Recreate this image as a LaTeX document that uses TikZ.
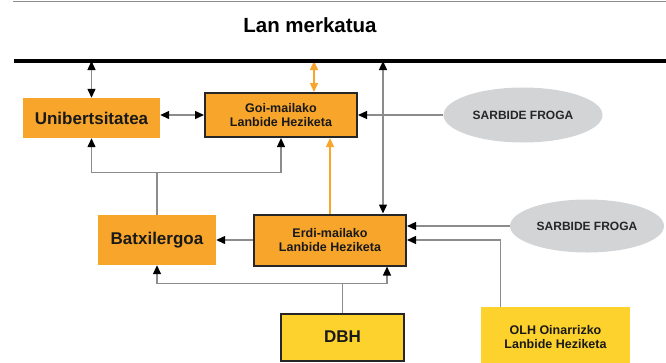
\documentclass[tikz,border=0pt]{standalone}
\usepackage{fontspec}
\setmainfont{Liberation Sans}
\usetikzlibrary{arrows.meta, shapes.geometric, positioning}

\definecolor{lborange}{HTML}{F7A52B}
\definecolor{lbyellow}{HTML}{FDD22C}
\definecolor{lbgray}{HTML}{D3D4D6}
\definecolor{lbline}{HTML}{8C8C8C}

\tikzset{
  box/.style={inner sep=2pt, align=center, text=black!90},
  obox/.style={box, fill=lborange},
  oboxb/.style={box, fill=lborange, draw=black!85, line width=2pt},
  yboxb/.style={box, fill=lbyellow, draw=black!85, line width=2pt},
  ybox/.style={box, fill=lbyellow},
  frog/.style={ellipse, fill=lbgray, text=black!85, inner sep=0pt,
    font=\bfseries\fontsize{12}{14}\selectfont},
  big/.style={font=\bfseries\fontsize{17}{20}\selectfont},
  small/.style={font=\bfseries\fontsize{12.5}{13.5}\selectfont},
  lin/.style={draw=lbline, line width=1.3pt},
  arr/.style={lin, -{Triangle[length=9pt,width=8pt,color=black]}},
  dbl/.style={lin, {Triangle[length=9pt,width=8pt,color=black]}-{Triangle[length=9pt,width=8pt,color=black]}},
  oarr/.style={draw=lborange, line width=1.3pt, -{Triangle[length=9pt,width=8pt]}},
  odbl/.style={draw=lborange, line width=1.3pt, {Triangle[length=9pt,width=8pt]}-{Triangle[length=9pt,width=8pt]}}
}

\begin{document}
\begin{tikzpicture}[x=1pt, y=-1pt]
\useasboundingbox (0,0) rectangle (666,362);

% top rules
\coordinate (tl) at (13,1);
\coordinate (tr) at (666,1);
\draw[lbline, line width=1pt] (tl) -- (tr);
\node[font=\bfseries\fontsize{20.5}{24}\selectfont] (lan) at (310,25) {Lan merkatua};
\coordinate (ml) at (14,61);
\coordinate (mr) at (666,61);

% boxes
\node[obox, big, minimum width=137pt, minimum height=40pt] (uni) at (91.5,118) {Unibertsitatea};
\node[oboxb, small, minimum width=152pt, minimum height=44pt] (goi) at (281,115) {Goi-mailako\\Lanbide Heziketa};
\node[obox, big, minimum width=118pt, minimum height=50pt] (batx) at (157,240) {Batxilergoa};
\node[oboxb, small, minimum width=152pt, minimum height=51pt] (erdi) at (330,240) {Erdi-mailako\\Lanbide Heziketa};
\node[yboxb, big, minimum width=123pt, minimum height=47pt] (dbh) at (342.5,337) {DBH};
\node[ybox, small, minimum width=149pt, minimum height=60pt] (olh) at (555.5,337) {OLH Oinarrizko\\Lanbide Heziketa};
\node[frog, minimum width=159pt, minimum height=55pt] (sf1) at (523,115) {SARBIDE FROGA};
\node[frog, minimum width=154pt, minimum height=53pt] (sf2) at (587,226) {SARBIDE FROGA};

% links to the market line
\draw[dbl] (uni.north) -- (uni.north |- ml);
\draw[odbl] ([xshift=33pt]goi.north) -- ([xshift=33pt]goi.north |- ml);
\draw[dbl] ([xshift=-24pt]erdi.north east) -- ([xshift=-24pt]erdi.north east |- ml);
\draw[black, line width=3.5pt] (ml) -- (mr);

% between boxes
\draw[dbl] (goi.west) -- (goi.west -| uni.east);
\draw[arr] (sf1) -- (goi);
\draw[oarr] (erdi.north) -- (erdi.north |- goi.south);
\draw[arr] (erdi.west) -- (batx.east);
\draw[arr] (sf2.west) -- (sf2.west -| erdi.east);

% from Batxilergoa
\coordinate (bj) at ([yshift=42pt]batx.north);
\draw[lin] (batx.north) -- (bj);
\draw[arr] (bj) -| (uni.south);
\draw[arr] (bj) -| (goi.south);

% from DBH
\coordinate (dj) at ([yshift=29pt]dbh.north);
\draw[lin] (dbh.north) -- (dj);
\draw[arr] (dj) -| (batx.south);
\draw[arr] (dj) -| ([xshift=-20pt]erdi.south east);

% from OLH
\coordinate (oc) at ([xshift=20pt]olh.north west);
\draw[arr] (oc) |- (erdi.east);

\end{tikzpicture}
\end{document}
